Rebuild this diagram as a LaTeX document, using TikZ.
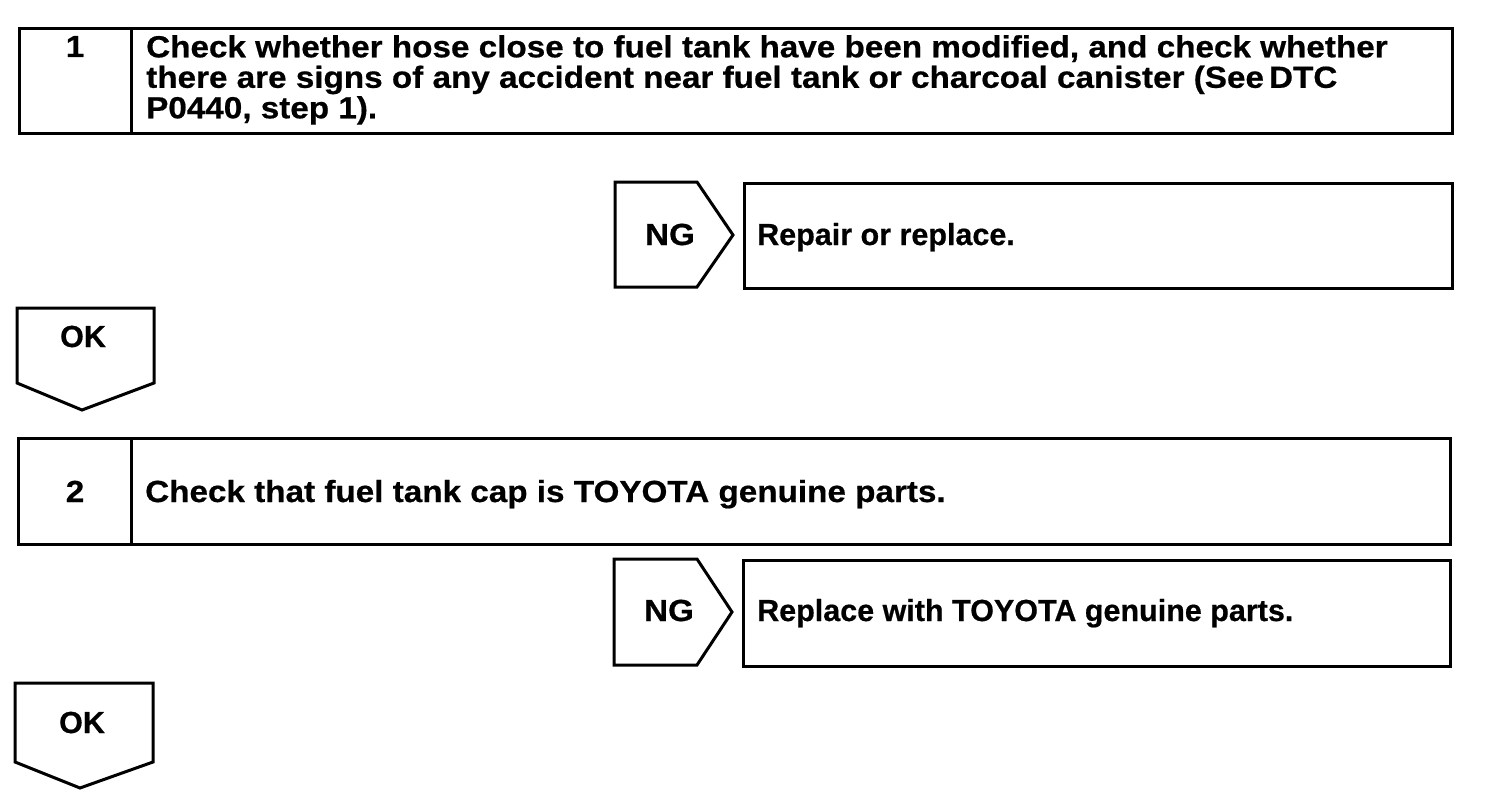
\documentclass[tikz,border=0pt]{standalone}
\usepackage{fontspec}
\newfontfamily\hvb{Liberation Sans}[UprightFont={* Bold},FakeStretch=1.09,FakeBold=0.6]
\newfontfamily\hvbn{Liberation Sans}[UprightFont={* Bold},FakeStretch=1.0,FakeBold=0.6]
\begin{document}
\begin{tikzpicture}[x=1pt,y=-1pt,
  frame/.style={draw, line width=3pt},
  cell/.style={frame, anchor=north west, inner sep=0pt},
  lbl/.style={font=\hvb\fontsize{30.5}{30.5}\selectfont, inner sep=0pt},
  lbln/.style={font=\hvbn\fontsize{30.5}{30.5}\selectfont, inner sep=0pt}]
\useasboundingbox (0,0) rectangle (1504,800);
% step 1
\node[cell, minimum width=112pt, minimum height=105pt] (num1) at (18,27) {};
\node[cell, minimum width=1321pt, minimum height=105pt] (box1) at (130,27) {};
\node[lbl, anchor=base] (n1) at (75,57) {1};
\node[lbl, anchor=north west, align=left] (t1) at (146,35)
  {Check whether hose close to fuel tank have been modified, and check whether\\
   there are signs of any accident near fuel tank or charcoal canister (See\,DTC\\
   P0440, step 1).};
% NG 1
\coordinate (ng1) at (615,182);
\draw[frame] (ng1) -- (697,182) -- (733,235) -- (697,287) -- (615,287) -- cycle;
\node[lbl, anchor=base] (ngt1) at (670,245) {NG};
\node[cell, minimum width=708pt, minimum height=105pt] (rep1) at (743,182) {};
\node[lbln, anchor=base west] (rt1) at (757,245) {Repair or replace.};
% OK 1
\coordinate (ok1) at (17,308);
\draw[frame] (ok1) -- (154,308) -- (154,383) -- (82,410) -- (17,383) -- cycle;
\node[lbln, anchor=base] (okt1) at (83,347) {OK};
% step 2
\node[cell, minimum width=113pt, minimum height=106pt] (num2) at (17,437) {};
\node[cell, minimum width=1319pt, minimum height=106pt] (box2) at (130,437) {};
\node[lbl, anchor=base] (n2) at (75,502) {2};
\node[lbl, anchor=base west] (t2) at (145,502) {Check that fuel tank cap is TOYOTA genuine parts.};
% NG 2
\coordinate (ng2) at (614,559);
\draw[frame] (ng2) -- (697,559) -- (732,612) -- (697,665) -- (614,665) -- cycle;
\node[lbl, anchor=base] (ngt2) at (669,621) {NG};
\node[cell, minimum width=707pt, minimum height=106pt] (rep2) at (742,559) {};
\node[lbln, anchor=base west] (rt2) at (757,621) {Replace with TOYOTA genuine parts.};
% OK 2
\coordinate (ok2) at (15,683);
\draw[frame] (ok2) -- (153,683) -- (153,762) -- (80,788) -- (15,762) -- cycle;
\node[lbln, anchor=base] (okt2) at (82,733) {OK};
\end{tikzpicture}
\end{document}
